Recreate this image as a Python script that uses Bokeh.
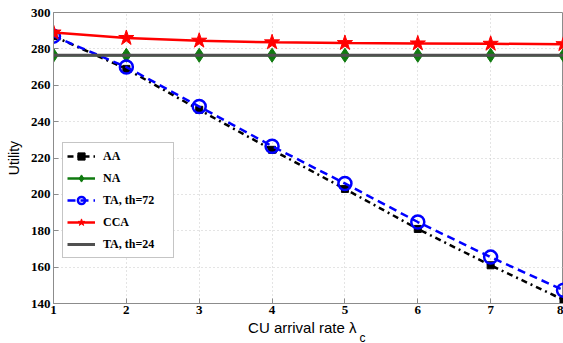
from bokeh.plotting import figure
from bokeh.models import Legend, LegendItem, Title, Range1d, FixedTicker
from bokeh.embed import file_html
from bokeh.resources import INLINE

# ---- data ----
x_rate = [1, 2, 3, 4, 5, 6, 7, 8]
aa = [287, 269, 246.5, 224.5, 203, 181, 161, 142]
na = [276.5, 276.5, 276.5, 276.5, 276.5, 276.5, 276.5, 276.5]
ta72 = [287, 270, 248.3, 226.5, 206, 184.8, 165.5, 147.3]
cca = [289, 286, 284.5, 283.6, 283.2, 283, 282.8, 282.6]
ta24 = [276.5, 276.5, 276.5, 276.5, 276.5, 276.5, 276.5, 276.5]
y_ticks = [140, 160, 180, 200, 220, 240, 260, 280, 300]
x_ticks = [1, 2, 3, 4, 5, 6, 7, 8]

p = figure(width=563, height=343, output_backend="svg", toolbar_location=None,
           x_range=Range1d(1, 8), y_range=Range1d(140, 300),
           min_border_left=53, min_border_right=0, min_border_top=12,
           min_border_bottom=40)
p.background_fill_color = "white"
p.border_fill_color = "white"
p.outline_line_color = "#8c8c8c"
p.outline_line_width = 1

for ax in (p.xaxis[0], p.yaxis[0]):
    ax.axis_line_color = "#8c8c8c"
    ax.major_tick_line_color = "#8c8c8c"
    ax.major_tick_in = 5
    ax.major_tick_out = 0
    ax.minor_tick_line_color = None
    ax.major_label_text_font = "Liberation Serif"
    ax.major_label_text_font_style = "bold"
    ax.major_label_text_font_size = "13px"
    ax.major_label_text_color = "black"
    ax.axis_label_text_font = "Liberation Sans"
    ax.axis_label_text_font_style = "normal"
    ax.axis_label_text_color = "black"

p.xaxis.ticker = FixedTicker(ticks=x_ticks)
p.yaxis.ticker = FixedTicker(ticks=y_ticks)
p.xaxis.major_label_standoff = 2
p.yaxis.major_label_standoff = 3
p.xaxis.axis_label = "CU arrival rate λ\u00a0\u00a0\u00a0"
p.xaxis.axis_label_text_font_size = "15px"
p.xaxis.axis_label_standoff = 2
p.yaxis.axis_label = "Utility"
p.yaxis.axis_label_text_font_size = "14px"
p.yaxis.axis_label_standoff = 6

for g in (p.xgrid[0], p.ygrid[0]):
    g.grid_line_color = "#c8c8c8"
    g.grid_line_dash = "1 3"
    g.grid_line_width = 1

# AA
r_aa_l = p.line(x_rate, aa, line_color="black", line_width=2.5, line_dash="dashdot")
r_aa_m = p.scatter(x_rate, aa, marker="square", size=7, fill_color="black", line_color="black")
# NA
r_na_l = p.line(x_rate, na, line_color="#0f7a0f", line_width=2.5)
r_na_m = p.scatter(x_rate, na, marker="diamond", size=14, fill_color="#0f7a0f", line_color="#0f7a0f")
# TA th=72
r_72_l = p.line(x_rate, ta72, line_color="#0000ff", line_width=2.5, line_dash="8 5")
r_72_m = p.scatter(x_rate, ta72, marker="circle", size=13, fill_color=None, line_color="#0000ff", line_width=2.5)
# CCA
r_cca_l = p.line(x_rate, cca, line_color="#ff0000", line_width=2.5)
r_cca_m = p.scatter(x_rate, cca, marker="star", size=16, fill_color="#ff0000", line_color="#ff0000")
# TA th=24
r_24_l = p.line(x_rate, ta24, line_color="#505050", line_width=3)

legend = Legend(items=[
    LegendItem(label="AA", renderers=[r_aa_l, r_aa_m]),
    LegendItem(label="NA", renderers=[r_na_l, r_na_m]),
    LegendItem(label="TA, th=72", renderers=[r_72_l, r_72_m]),
    LegendItem(label="CCA", renderers=[r_cca_l, r_cca_m]),
    LegendItem(label="TA, th=24", renderers=[r_24_l]),
], location=(9, 45))
legend.label_text_font = "Liberation Serif"
legend.label_text_font_style = "bold"
legend.label_text_font_size = "12px"
legend.label_text_color = "black"
legend.glyph_width = 28
legend.glyph_height = 18
legend.label_height = 18
legend.label_width = 66
legend.spacing = 4
legend.padding = 4
legend.margin = 0
legend.label_standoff = 8
legend.border_line_color = "#8c8c8c"
legend.border_line_width = 1
legend.background_fill_color = "white"
legend.background_fill_alpha = 1
p.add_layout(legend, "center")

# subscript "c" of the x-axis label
sub = Title(text="c", align="left", offset=306, standoff=-16, vertical_align="top",
            text_font="Liberation Sans", text_font_style="normal",
            text_font_size="12px", text_color="black")
p.add_layout(sub, "below")

open("out.html", "w").write(file_html(p, INLINE))
